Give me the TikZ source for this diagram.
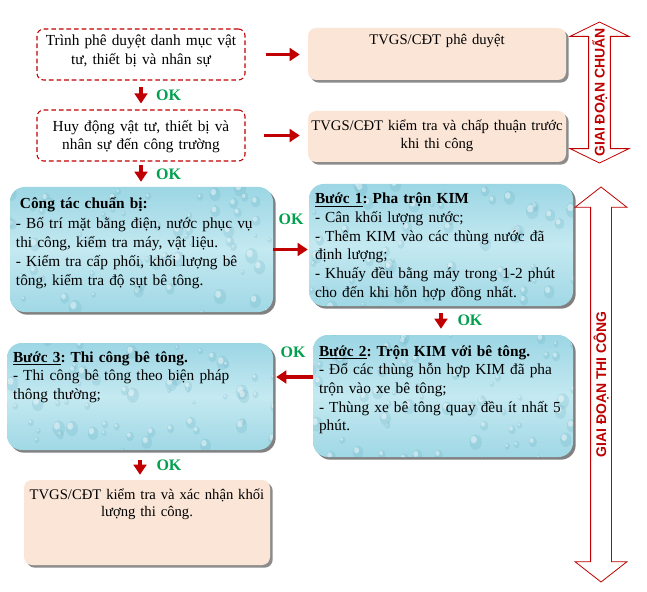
\documentclass[tikz,border=0pt]{standalone}
\usepackage{fontspec}
\setmainfont{Liberation Serif}
\setsansfont{Liberation Sans}
\usepackage{xcolor}
\usepackage{tikz}
\usetikzlibrary{positioning, arrows.meta, shapes.arrows, shadows}
\frenchspacing
\definecolor{kred}{HTML}{C00000}
\definecolor{okgreen}{HTML}{00A04F}
\definecolor{peach}{HTML}{FBE5D6}
\definecolor{wtop}{HTML}{9CD6E4}
\definecolor{wmid}{HTML}{C4E9F1}
\definecolor{wbot}{HTML}{A0D8E5}
\definecolor{wdrop}{HTML}{5FA9BD}
\tikzstyle{dash_box}=[draw=kred, line width=0.8pt, dash pattern=on 3.5pt off 2.2pt, rounded corners=5pt, align=center, text width=156pt, inner xsep=0pt, inner ysep=0pt, font=\fontsize{11.5}{13.5}\selectfont]
\tikzstyle{peach_box}=[fill=peach, rounded corners=6pt, drop shadow={shadow xshift=2pt, shadow yshift=-2pt, fill=black!50, opacity=.9}, align=center, inner xsep=0pt, inner ysep=0pt, font=\fontsize{11}{13}\selectfont]
\tikzstyle{water_box}=[top color=wtop, bottom color=wbot, middle color=wmid, rounded corners=11pt, drop shadow={shadow xshift=2pt, shadow yshift=-2pt, fill=black!55, opacity=.9}, align=left, inner xsep=4.5pt, inner ysep=0pt, font=\fontsize{11.5}{14}\selectfont,
    path picture={
        % water drops
        \foreach \k in {1,...,70}{
            \pgfmathsetmacro{\dx}{105*rand}
            \pgfmathsetmacro{\dy}{50*rand}
            \pgfmathsetmacro{\dr}{1.2+3.6*rnd}
            \fill[wdrop, opacity=.2] ([xshift=\dx pt, yshift=\dy pt]path picture bounding box.center) ellipse ({\dr pt} and {1.25*\dr pt});
            \fill[white, opacity=.45] ([xshift=\dx pt-0.3*\dr pt, yshift=\dy pt+0.4*\dr pt]path picture bounding box.center) ellipse ({0.5*\dr pt} and {0.6*\dr pt});
        }}]
\tikzstyle{red_arrow}=[-{Triangle[width=9.5pt, length=7.5pt]}, kred, line width=2.8pt]
\tikzstyle{ok_label}=[text=okgreen, font=\bfseries\fontsize{12}{14}\selectfont, inner sep=0pt]
\tikzstyle{stage_arrow}=[double arrow, draw=kred, fill=white, line width=0.6pt, rotate=90, inner xsep=0pt, text height=7.6pt, text depth=0pt, text=kred, font=\sffamily\bfseries\fontsize{10.5}{12}\selectfont]

\begin{document}
\begin{tikzpicture}[x=0.75pt, y=-0.75pt]
    \pgfmathsetseed{11}
    \useasboundingbox (0,0) rectangle (647,592);

    \node[dash_box, text height=12.75pt, text depth=25.5pt] at (141, 54.5) (plan) {Trình phê duyệt danh mục vật\\tư, thiết bị và nhân sự};
    \node[peach_box, text width=193.5pt, text height=12.75pt, text depth=26.25pt] at (437, 54) (approve) {TVGS/CĐT phê duyệt};
    \node[dash_box, text height=16.5pt, text depth=21.75pt] at (141, 135.5) (mobilize) {Huy động vật tư, thiết bị và\\nhân sự đến công trường};
    \node[peach_box, text width=193.5pt, text height=15pt, text depth=23.25pt] at (437, 136.5) (accept) {TVGS/CĐT kiểm tra và chấp thuận trước\\khi thi công};

    \node[water_box, text width=188.25pt, text height=16.5pt, text depth=77.25pt, font=\fontsize{11.5}{14.4}\selectfont] at (141.5, 249.5) (prepare) {\hspace{3pt}\textbf{Công tác chuẩn bị:}\\- Bố trí mặt bằng điện, nước phục vụ\\thi công, kiểm tra máy, vật liệu.\\- Kiểm tra cấp phối, khối lượng bê\\tông, kiểm tra độ sụt bê tông.};
    \node[water_box, text width=189pt, text height=15pt, text depth=76.5pt] at (441, 245) (step1) {\textbf{\underline{Bước 1}: Pha trộn KIM}\\- Cân khối lượng nước;\\- Thêm KIM vào các thùng nước đã\\định lượng;\\- Khuấy đều bằng máy trong 1-2 phút\\cho đến khi hỗn hợp đồng nhất.};
    \node[water_box, text width=186pt, text height=15.75pt, text depth=75.75pt] at (443, 396) (step2) {\textbf{\underline{Bước 2}: Trộn KIM với bê tông.}\\- Đổ các thùng hỗn hợp KIM đã pha\\trộn vào xe bê tông;\\- Thùng xe bê tông quay đều ít nhất 5\\phút.};
    \node[water_box, text width=190.5pt, text height=14.25pt, text depth=66pt] at (140, 396.5) (step3) {\textbf{\underline{Bước 3}: Thi công bê tông.}\\- Thi công bê tông theo biện pháp\\thông thường;};
    \node[peach_box, text width=184.5pt, text height=14.25pt, text depth=49.5pt] at (147, 522.5) (confirm) {TVGS/CĐT kiểm tra và xác nhận khối\\lượng thi công.};

    \node[stage_arrow, minimum height=105.75pt, inner ysep=4.07pt, double arrow head extend=13.9pt, double arrow tip angle=128] at (599.5, 92.5) (prep_stage) {\makebox[0pt]{GIAI ĐOẠN CHUẨN}};
    \node[stage_arrow, minimum height=296.25pt, inner ysep=3.7pt, double arrow head extend=11.6pt, double arrow tip angle=104] at (601, 384.5) (build_stage) {\makebox[0pt]{GIAI ĐOẠN THI CÔNG}};

    \draw[red_arrow, shorten <=15pt, shorten >=6pt] (plan.east) -- (plan.east -| approve.west);
    \draw[red_arrow, shorten <=13.5pt, shorten >=6pt] (mobilize.east) -- (mobilize.east -| accept.west);
    \draw[red_arrow, shorten <=4.5pt, shorten >=4.5pt] (plan.south) -- (plan.south |- mobilize.north) node[ok_label, midway, right=10pt] {OK};
    \draw[red_arrow, shorten <=2.25pt, shorten >=3.75pt] (mobilize.south) -- (mobilize.south |- prepare.north) node[ok_label, midway, right=10pt] {OK};
    \draw[red_arrow, shorten >=0.75pt] (prepare.east) -- (prepare.east -| step1.west) node[ok_label, midway, above=17pt] {OK};
    \draw[red_arrow, shorten <=5.25pt, shorten >=4.5pt] (step1.south) -- (step1.south |- step2.north) node[ok_label, midway, right=11pt] {OK};
    \draw[red_arrow, shorten >=2.25pt] ([yshift=14.25pt]step2.west) -- ([yshift=14.25pt]step2.west -| step3.east) node[ok_label, midway, above=12.75pt] {OK};
    \draw[red_arrow, shorten <=7.5pt, shorten >=3.75pt] (step3.south) -- (step3.south |- confirm.north) node[ok_label, midway, right=11pt] {OK};
\end{tikzpicture}
\end{document}
